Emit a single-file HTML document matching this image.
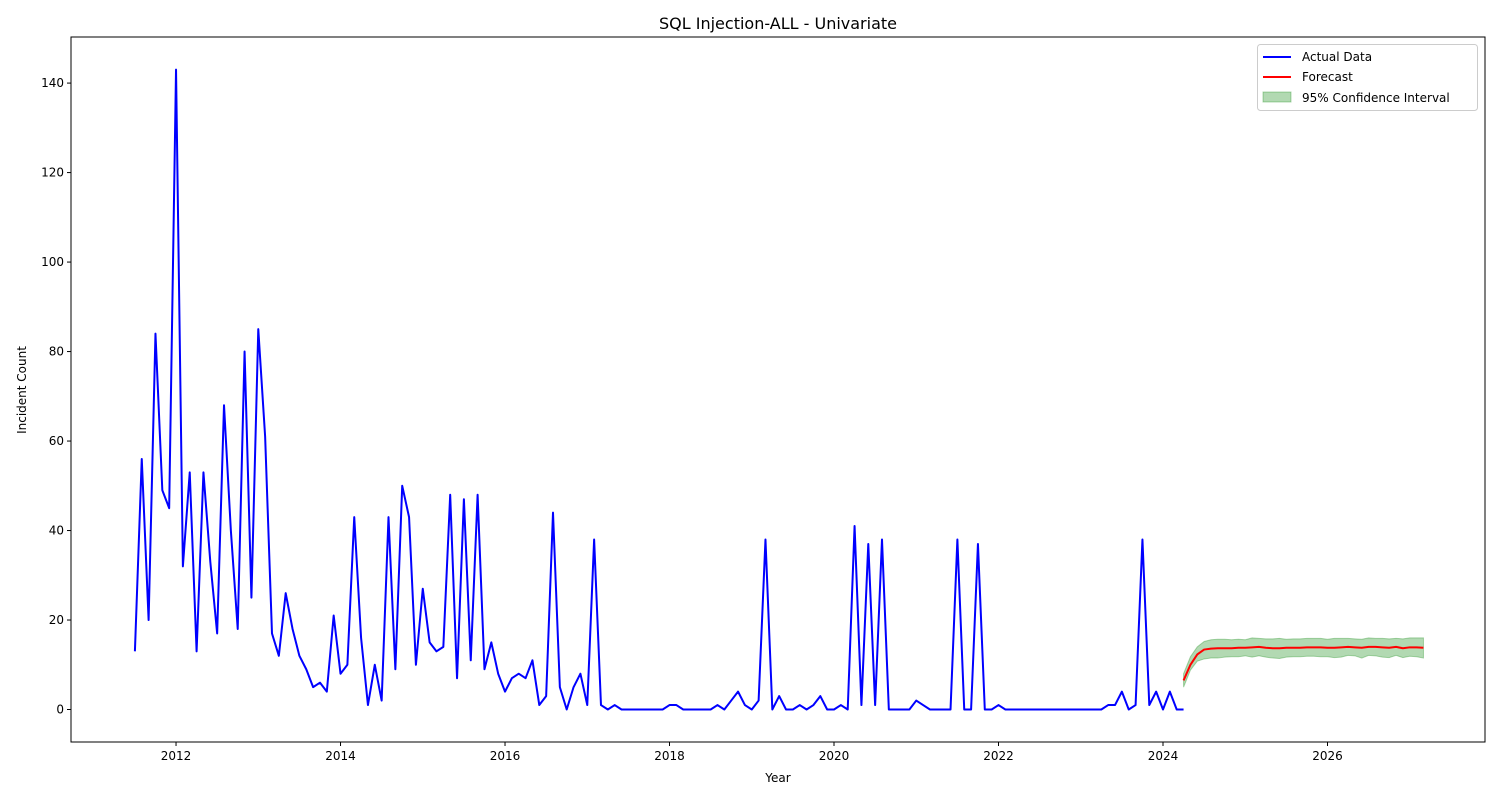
<!DOCTYPE html>
<html><head><meta charset="utf-8">
<style>body{margin:0;background:#fff}svg{display:block;font-family:"DejaVu Sans","Liberation Sans",sans-serif}</style>
</head><body>
<svg id="chart" width="1500" height="800"></svg>
<script>
const startYear = 2011, startMonth = 7;
const actual = [13,56,20,84,49,45,
143,32,53,13,53,33,17,68,40,18,80,25,
85,61,17,12,26,18,12,9,5,6,4,21,
8,10,43,16,1,10,2,43,9,50,43,10,
27,15,13,14,48,7,47,11,48,9,15,8,
4,7,8,7,11,1,3,44,5,0,5,8,
1,38,1,0,1,0,0,0,0,0,0,0,
1,1,0,0,0,0,0,1,0,2,4,1,
0,2,38,0,3,0,0,1,0,1,3,0,
0,1,0,41,1,37,1,38,0,0,0,0,
2,1,0,0,0,0,38,0,0,37,0,0,
1,0,0,0,0,0,0,0,0,0,0,0,
0,0,0,0,1,1,4,0,1,38,1,4,
0,4,0,0];
const fcStartYear = 2024, fcStartMonth = 4;
const forecast = [6.5,10,12.3,13.4,13.6,13.7,13.7,13.7,13.8,13.8,13.9,14.0,13.8,13.7,13.7,13.8,13.8,13.8,13.9,13.9,13.9,13.8,13.8,13.9,14.0,13.9,13.8,14.0,14.0,13.9,13.8,14.0,13.7,13.9,13.9,13.8];
const lower = [5,8.8,10.8,11.3,11.5,11.5,11.7,11.8,11.8,12.0,11.7,12.0,11.7,11.5,11.4,11.7,11.8,11.8,11.9,11.9,11.8,11.8,11.6,11.7,12.1,12.0,11.5,12.1,12.0,11.7,11.6,12.1,11.6,11.9,11.8,11.5];
const upper = [8,11.8,14,15.2,15.6,15.7,15.7,15.6,15.7,15.6,16.0,15.9,15.8,15.8,15.9,15.7,15.8,15.8,15.9,15.9,15.9,15.7,15.9,15.9,15.9,15.8,15.7,16.0,15.9,15.9,15.8,15.9,15.8,16.0,16.0,16.0];
const xTicks = [2012,2014,2016,2018,2020,2022,2024,2026];
const yTicks = [0,20,40,60,80,100,120,140];

const L=71,R=1485,T=37,B=742;
const xMin=2010.723,xMax=2027.915,yMin=-7.26,yMax=150.3;
const X=v=>L+(v-xMin)/(xMax-xMin)*(R-L);
const Y=v=>B-(v-yMin)/(yMax-yMin)*(B-T);
const svg=document.getElementById('chart');
const NS='http://www.w3.org/2000/svg';
function mk(tag,attrs,parent){const e=document.createElementNS(NS,tag);for(const k in attrs)e.setAttribute(k,attrs[k]);(parent||svg).appendChild(e);return e;}
const dateOf=(y0,m0,i)=>y0+(m0-1+i)/12;

let d='';
upper.forEach((v,i)=>{d+=(i?'L':'M')+X(dateOf(fcStartYear,fcStartMonth,i))+','+Y(v);});
for(let i=lower.length-1;i>=0;i--)d+='L'+X(dateOf(fcStartYear,fcStartMonth,i))+','+Y(lower[i]);
const band=mk('path',{d:d+'Z',fill:'#008000','fill-opacity':0.3,stroke:'#008000','stroke-opacity':0.3});



const pa=actual.map((v,i)=>X(dateOf(startYear,startMonth,i))+','+Y(v)).join(' ');
const la=mk('polyline',{points:pa,fill:'none',stroke:'#0000ff','stroke-width':2,'stroke-linejoin':'round'});


const pf=forecast.map((v,i)=>X(dateOf(fcStartYear,fcStartMonth,i))+','+Y(v)).join(' ');
const lf=mk('polyline',{points:pf,fill:'none',stroke:'#ff0000','stroke-width':2,'stroke-linejoin':'round'});



const fr=mk('rect',{x:L,y:T,width:R-L,height:B-T,fill:'none',stroke:'#000','stroke-width':1});


xTicks.forEach(t=>{const x=X(t);
 mk('line',{x1:x,x2:x,y1:B,y2:B+4,stroke:'#000'});
 const tx=mk('text',{x:x,y:B+18,'text-anchor':'middle','font-size':12});tx.textContent=t;
 
 
});
yTicks.forEach(t=>{const y=Y(t);
 mk('line',{x1:L-4,x2:L,y1:y,y2:y,stroke:'#000'});
 const tx=mk('text',{x:L-7,y:y+4,'text-anchor':'end','font-size':12});tx.textContent=t;
 
 
});
</script>
<div style="position:absolute;left:0;top:0;width:1500px;height:800px;pointer-events:none">
<svg width="1500" height="800" style="position:absolute;left:0;top:0">
<text x="778" y="29" text-anchor="middle" font-size="16">SQL Injection-ALL - Univariate</text>
<text x="778" y="782" text-anchor="middle" font-size="12">Year</text>
<text x="26" y="390" text-anchor="middle" font-size="12" transform="rotate(-90 26 390)">Incident Count</text>
<g>
<rect x="1257.5" y="44.5" width="220" height="66" rx="3" fill="#fff" fill-opacity="0.8" stroke="#ccc"/>
<line x1="1263" x2="1291" y1="57" y2="57" stroke="#0000ff" stroke-width="2"/>
<text x="1302" y="61" font-size="12">Actual Data</text>
<line x1="1263" x2="1291" y1="77" y2="77" stroke="#ff0000" stroke-width="2"/>
<text x="1302" y="81" font-size="12">Forecast</text>
<rect x="1263" y="92" width="28" height="10" fill="#008000" fill-opacity="0.3" stroke="#008000" stroke-opacity="0.3"/>
<text x="1302" y="102" font-size="12">95% Confidence Interval</text>
</g>
</svg></div>
</body></html>
